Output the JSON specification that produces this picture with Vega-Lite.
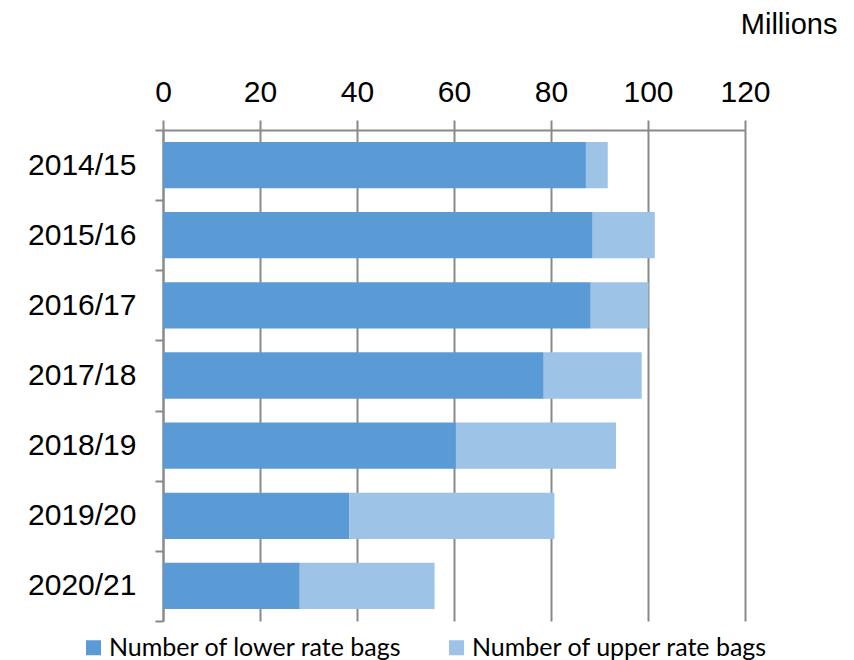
{
  "$schema": "https://vega.github.io/schema/vega-lite/v6.json",
  "width": 582,
  "height": 491,
  "autosize": {"type": "none"},
  "padding": {"left": 163, "top": 130, "right": 109, "bottom": 39},
  "background": "white",
  "data": {
    "values": [
      {"year": "2014/15", "type": "Number of lower rate bags", "bags": 87.2},
      {"year": "2014/15", "type": "Number of upper rate bags", "bags": 4.5},
      {"year": "2015/16", "type": "Number of lower rate bags", "bags": 88.6},
      {"year": "2015/16", "type": "Number of upper rate bags", "bags": 12.8},
      {"year": "2016/17", "type": "Number of lower rate bags", "bags": 88.2},
      {"year": "2016/17", "type": "Number of upper rate bags", "bags": 11.9},
      {"year": "2017/18", "type": "Number of lower rate bags", "bags": 78.5},
      {"year": "2017/18", "type": "Number of upper rate bags", "bags": 20.2},
      {"year": "2018/19", "type": "Number of lower rate bags", "bags": 60.4},
      {"year": "2018/19", "type": "Number of upper rate bags", "bags": 33.0},
      {"year": "2019/20", "type": "Number of lower rate bags", "bags": 38.4},
      {"year": "2019/20", "type": "Number of upper rate bags", "bags": 42.3},
      {"year": "2020/21", "type": "Number of lower rate bags", "bags": 28.2},
      {"year": "2020/21", "type": "Number of upper rate bags", "bags": 27.8}
    ]
  },
  "transform": [
    {"calculate": "datum.type == 'Number of lower rate bags' ? 0 : 1", "as": "stackOrder"}
  ],
  "mark": {"type": "bar", "strokeWidth": 0, "height": {"band": 0.66}},
  "encoding": {
    "y": {
      "field": "year",
      "type": "nominal",
      "title": null,
      "sort": null,
      "scale": {"paddingInner": 0, "paddingOuter": 0},
      "axis": {
        "orient": "left",
        "tickBand": "extent",
        "tickSize": 8,
        "tickColor": "#898989",
        "tickWidth": 2,
        "domainColor": "#898989",
        "domainWidth": 2,
        "labelFont": "Liberation Sans",
        "labelFontSize": 30,
        "labelColor": "#000000",
        "labelPadding": 19,
        "grid": false
      }
    },
    "x": {
      "field": "bags",
      "type": "quantitative",
      "stack": "zero",
      "scale": {"domain": [0, 120], "nice": false},
      "axis": {
        "orient": "top",
        "values": [0, 20, 40, 60, 80, 100, 120],
        "grid": true,
        "gridColor": "#898989",
        "gridWidth": 2,
        "gridOpacity": 1,
        "tickSize": 10,
        "tickColor": "#898989",
        "tickWidth": 2,
        "domainColor": "#898989",
        "domainWidth": 2,
        "labelFont": "Liberation Sans",
        "labelFontSize": 30,
        "labelColor": "#000000",
        "labelPadding": 13,
        "labelFlush": false,
        "title": "Millions",
        "titleFont": "Liberation Sans",
        "titleFontSize": 29,
        "titleFontWeight": "normal",
        "titleColor": "#000000",
        "titleAlign": "right",
        "titleAnchor": null,
        "titleBaseline": "alphabetic",
        "titleX": 674,
        "titleY": -97
      }
    },
    "color": {
      "field": "type",
      "type": "nominal",
      "title": null,
      "scale": {
        "domain": ["Number of lower rate bags", "Number of upper rate bags"],
        "range": ["#5B9BD5", "#9DC3E6"]
      },
      "legend": {
        "orient": "none",
        "direction": "horizontal",
        "legendX": -82,
        "legendY": 505,
        "symbolType": "square",
        "symbolSize": 225,
        "symbolStrokeWidth": 0,
        "labelFont": "Lato",
        "labelFontSize": 25,
        "labelColor": "#000000",
        "labelOffset": 3,
        "labelLimit": 400,
        "columnPadding": 41
      }
    },
    "order": {"field": "stackOrder", "type": "quantitative"}
  },
  "config": {
    "view": {"stroke": null}
  }
}
